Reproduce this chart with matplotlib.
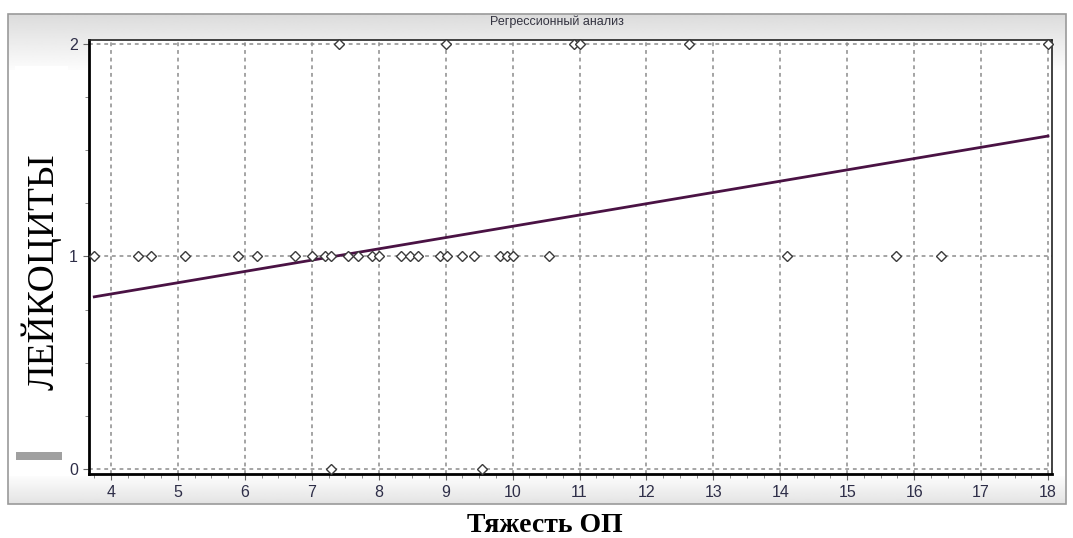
import numpy as np
import matplotlib
matplotlib.use("Agg")
import matplotlib.pyplot as plt
from matplotlib.ticker import MultipleLocator

# ---- data ----
x_level1 = [3.75, 4.40, 4.60, 5.10, 5.90, 6.18, 6.75, 7.00, 7.20, 7.29, 7.54, 7.69,
            7.90, 8.01, 8.34, 8.46, 8.59, 8.92, 9.02, 9.25, 9.42, 9.81, 9.91, 10.01,
            10.54, 14.10, 15.73, 16.40]
x_level2 = [7.41, 9.00, 10.92, 11.01, 12.63, 18.00]
x_level0 = [7.28, 9.55]
y_levels = [1, 2, 0]

line_x = [3.75, 18.0]
line_y = [0.81, 1.567]

x_ticks = [4, 5, 6, 7, 8, 9, 10, 11, 12, 13, 14, 15, 16, 17, 18]
y_ticks = [0, 1, 2]

title = "Регрессионный анализ"
xlabel = "Тяжесть ОП"
ylabel = "ЛЕЙКОЦИТЫ"

W, H = 1073, 538
fig = plt.figure(figsize=(W / 100, H / 100), dpi=100)
fig.patch.set_facecolor("white")

# ---- background panel (pixel coordinates) ----
bg = fig.add_axes([0, 0, 1, 1])
bg.set_xlim(0, W)
bg.set_ylim(H, 0)
bg.axis("off")
rows = np.linspace(14, 504, 491)
vals = np.ones_like(rows)
top = rows < 70
vals[top] = 0.86 + 0.13 * (rows[top] - 14) / 56
bot = rows > 476
vals[bot] = 0.99 - 0.10 * (rows[bot] - 476) / 28
grad = np.repeat(vals[:, None], 2, axis=1)
bg.imshow(grad, cmap="gray", vmin=0, vmax=1, extent=(8, 1066, 504, 14),
          aspect="auto", interpolation="bilinear")
bg.add_patch(plt.Rectangle((8, 14), 1058, 490, fill=False, ec="#9a9a9a", lw=1.2))
bg.add_patch(plt.Rectangle((15, 66), 53, 384, fc="white", ec="none"))
bg.add_patch(plt.Rectangle((16, 452), 46, 8, fc="#a0a0a0", ec="none"))

# ---- main axes ----
ax = fig.add_axes([89 / W, 1 - 474 / H, (1052 - 89) / W, (474 - 40) / H])
ax.set_facecolor("white")
ax.set_xlim(3.671, 18.06)
ax.set_ylim(-0.024, 2.019)

ax.set_xticks(x_ticks)
ax.set_yticks(y_ticks)
ax.xaxis.set_minor_locator(MultipleLocator(0.25))
ax.yaxis.set_minor_locator(MultipleLocator(0.25))
ax.grid(True, which="major", color="#8c8c8c", linestyle=(0, (2.5, 2.5)), lw=1.1)

ax.tick_params(axis="both", which="major", length=4, width=0.8, color="#666666",
               direction="out", pad=4)
ax.tick_params(axis="both", which="minor", length=3, width=0.7, color="#888888",
               direction="out")
for lab in ax.get_xticklabels() + ax.get_yticklabels():
    lab.set_fontfamily("Liberation Sans")
    lab.set_fontsize(11.5)
    lab.set_color("#2e2e48")

for side in ("left", "bottom"):
    ax.spines[side].set_linewidth(2.0)
    ax.spines[side].set_color("black")
for side in ("top", "right"):
    ax.spines[side].set_linewidth(1.2)
    ax.spines[side].set_color("#222222")

# regression line
ax.plot(line_x, line_y, color="#4a1244", lw=2.0, zorder=3)

# points
for xs, yv in zip([x_level1, x_level2, x_level0], y_levels):
    ax.plot(xs, [yv] * len(xs), linestyle="none", marker="D", markersize=4.6,
            mfc="white", mec="#3a3a3a", mew=1.0, zorder=4, clip_on=False)

# texts
fig.text(557 / W, 1 - 22 / H, title, ha="center", va="center",
         family="Liberation Sans", fontsize=9, color="#333340")
fig.text(545 / W, 1 - 526 / H, xlabel, ha="center", va="center",
         family="Liberation Serif", fontsize=20, fontweight="bold", color="black")
fig.text(41 / W, 1 - 272 / H, ylabel, ha="center", va="center", rotation=90,
         family="Liberation Serif", fontsize=27, color="black")

fig.savefig("out.png", dpi=100)
